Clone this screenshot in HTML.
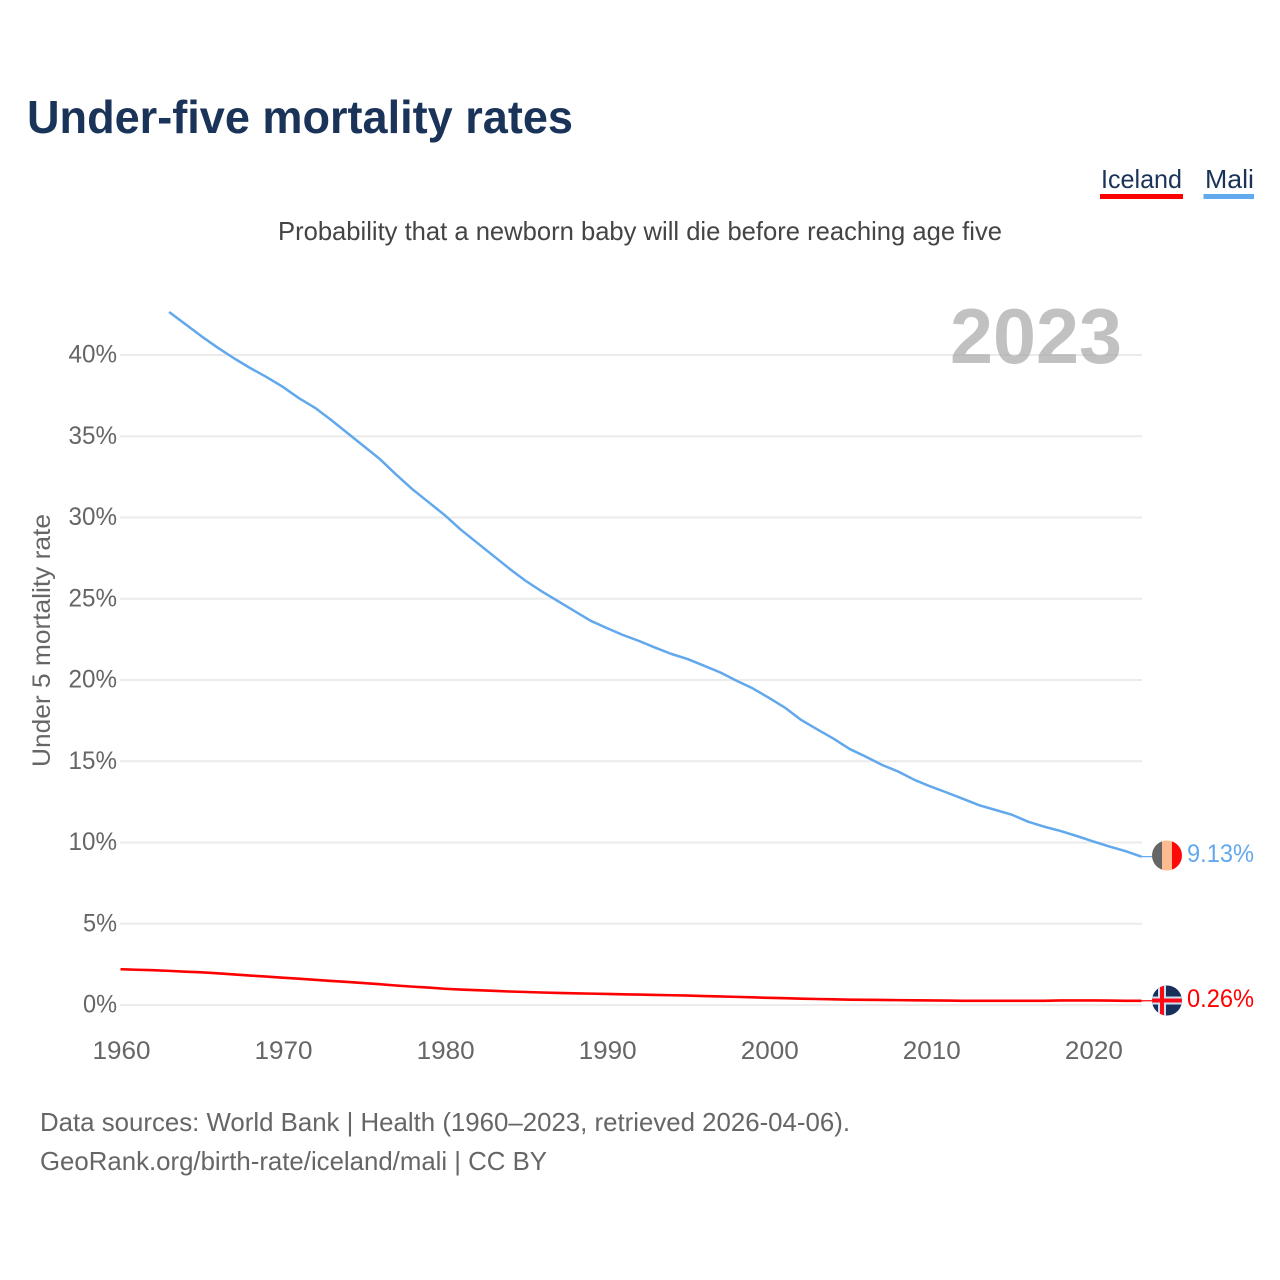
<!DOCTYPE html>
<html lang="en">
<head>
<meta charset="utf-8">
<title>Under-five mortality rates</title>
<style>
html,body{margin:0;padding:0;background:#fff;width:1280px;height:1280px;overflow:hidden}
svg{display:block}
text{font-family:"Liberation Sans",sans-serif}
</style>
</head>
<body>
<svg id="chart" width="1280" height="1280" viewBox="0 0 1280 1280" xmlns="http://www.w3.org/2000/svg">
  <defs>
    <clipPath id="flag-clip-mali"><circle cx="1167" cy="855.5" r="15"/></clipPath>
    <clipPath id="flag-clip-iceland"><circle cx="1167" cy="1000.5" r="15"/></clipPath>
  </defs>
  <rect width="1280" height="1280" fill="#fff"/>
  <text x="27" y="133" font-size="46" font-weight="700" fill="#1a3358" textLength="546" lengthAdjust="spacingAndGlyphs">Under-five mortality rates</text>
  <g>
    <g>
      <text x="1101" y="188" font-size="26" fill="#1a3358" textLength="81" lengthAdjust="spacingAndGlyphs">Iceland</text>
      <rect x="1100" y="194" width="83" height="5" fill="#ff0000"/>
    </g>
    <g>
      <text x="1205" y="188" font-size="26" fill="#1a3358" textLength="49" lengthAdjust="spacingAndGlyphs">Mali</text>
      <rect x="1203.5" y="194" width="50.5" height="5" fill="#63a9ee"/>
    </g>
  </g>
  <text x="278" y="240" font-size="26" fill="#444" textLength="724" lengthAdjust="spacingAndGlyphs">Probability that a newborn baby will die before reaching age five</text>
  <g id="grid"></g>
  <text x="950" y="363" font-size="78" font-weight="700" fill="#a6a6a6" fill-opacity="0.7" textLength="172" lengthAdjust="spacingAndGlyphs">2023</text>
  <g id="yticks"></g>
  <g id="xticks"></g>
  <text transform="translate(50,767) rotate(-90)" font-size="25" fill="#666" textLength="253" lengthAdjust="spacingAndGlyphs">Under 5 mortality rate</text>
  <g id="series"></g>
  <g clip-path="url(#flag-clip-mali)">
    <rect x="1152" y="840" width="10" height="31" fill="#666666"/>
    <rect x="1162" y="840" width="10" height="31" fill="#ffbb90"/>
    <rect x="1172" y="840" width="10" height="31" fill="#ff0808"/>
  </g>
  <g clip-path="url(#flag-clip-iceland)">
    <rect x="1152" y="985" width="30" height="31" fill="#17305a"/>
    <rect x="1152" y="996.5" width="30" height="8" fill="#cfe0f5"/>
    <rect x="1158" y="985" width="8" height="31" fill="#cfe0f5"/>
    <rect x="1152" y="998.5" width="30" height="4" fill="#ff0a14"/>
    <rect x="1160" y="985" width="4" height="31" fill="#ff0a14"/>
  </g>
  <text id="end-mali" x="1187" y="862" font-size="25" fill="#63a9ee" textLength="67" lengthAdjust="spacingAndGlyphs"></text>
  <text id="end-iceland" x="1187" y="1007" font-size="25" fill="#ff0000" textLength="67" lengthAdjust="spacingAndGlyphs"></text>
  <text x="40" y="1131" font-size="26" fill="#666" textLength="810" lengthAdjust="spacingAndGlyphs">Data sources: World Bank | Health (1960–2023, retrieved 2026-04-06).</text>
  <text x="40" y="1170" font-size="26" fill="#666" textLength="507" lengthAdjust="spacingAndGlyphs">GeoRank.org/birth-rate/iceland/mali | CC BY</text>
</svg>
<script>
const yTickValues = [0, 5, 10, 15, 20, 25, 30, 35, 40];
const xTickYears = [1960, 1970, 1980, 1990, 2000, 2010, 2020];
const icelandStartYear = 1960;
const icelandValues = [2.2,2.17,2.14,2.1,2.05,2.01,1.95,1.88,1.81,1.75,1.68,1.62,1.55,1.48,1.42,1.35,1.28,1.2,1.13,1.07,1.0,0.95,0.91,0.87,0.83,0.8,0.77,0.74,0.72,0.7,0.68,0.66,0.64,0.62,0.6,0.58,0.55,0.53,0.5,0.47,0.44,0.42,0.39,0.37,0.35,0.33,0.32,0.31,0.3,0.29,0.28,0.27,0.26,0.26,0.26,0.26,0.26,0.26,0.28,0.28,0.28,0.27,0.26,0.26];
const maliStartYear = 1963;
const maliValues = [42.65,41.9,41.15,40.45,39.8,39.2,38.65,38.05,37.35,36.75,36.0,35.2,34.4,33.6,32.65,31.75,30.95,30.15,29.25,28.45,27.65,26.85,26.1,25.45,24.85,24.25,23.65,23.2,22.77,22.4,21.99,21.6,21.29,20.88,20.47,19.96,19.49,18.91,18.3,17.54,16.96,16.39,15.75,15.28,14.77,14.36,13.85,13.44,13.07,12.68,12.29,12.0,11.71,11.28,10.97,10.71,10.4,10.07,9.76,9.47,9.13];

const NS = 'http://www.w3.org/2000/svg';
function xScale(year){ return 120.5 + (year - 1960) * (1021 / 63); }
function yScale(value){ return 1005 - value * 16.25; }
function mk(tag, attrs, parent){
  const el = document.createElementNS(NS, tag);
  for (const k in attrs) el.setAttribute(k, attrs[k]);
  parent.appendChild(el);
  return el;
}

const gridG = document.getElementById('grid');
const yG = document.getElementById('yticks');
yTickValues.forEach(function(v){
  const line = mk('line', {x1:120, x2:1142, y1:yScale(v), y2:yScale(v), stroke:'#ebebeb', 'stroke-width':2}, gridG);
  
  
  const label = String(v) + '%';
  const t = mk('text', {x:117, y:yScale(v)+7.5, 'font-size':25, fill:'#666', 'text-anchor':'end',
    textLength:(label.length-1)*14.5+19.5, lengthAdjust:'spacingAndGlyphs'}, yG);
  t.textContent = label;
  
  
});

const xG = document.getElementById('xticks');
xTickYears.forEach(function(y){
  const t = mk('text', {x:xScale(y)+1, y:1059, 'font-size':25, fill:'#666', 'text-anchor':'middle',
    textLength:58, lengthAdjust:'spacingAndGlyphs'}, xG);
  t.textContent = String(y);
  
  
});

function linePath(start, values){
  return values.map(function(v, i){
    return (i ? 'L' : 'M') + xScale(start + i).toFixed(2) + ' ' + yScale(v).toFixed(2);
  }).join(' ');
}
const sG = document.getElementById('series');

const maliLine = mk('path', {d:linePath(maliStartYear, maliValues), fill:'none', stroke:'#62a8ec', 'stroke-width':2.5, 'stroke-linejoin':'round'}, sG);



const icelandLine = mk('path', {d:linePath(icelandStartYear, icelandValues), fill:'none', stroke:'#ff0000', 'stroke-width':2.6, 'stroke-linejoin':'round'}, sG);



const maliLast = maliValues[maliValues.length - 1];
const icelandLast = icelandValues[icelandValues.length - 1];

const maliLead = mk('line', {x1:xScale(2023), x2:1153, y1:yScale(maliLast), y2:yScale(maliLast), stroke:'#62a8ec', 'stroke-width':1.2}, sG);



const icelandLead = mk('line', {x1:xScale(2023), x2:1153, y1:yScale(icelandLast), y2:yScale(icelandLast), stroke:'#ff0000', 'stroke-width':1.2}, sG);



document.getElementById('end-mali').textContent = maliLast.toFixed(2) + '%';
document.getElementById('end-iceland').textContent = icelandLast.toFixed(2) + '%';
</script>
</body>
</html>
